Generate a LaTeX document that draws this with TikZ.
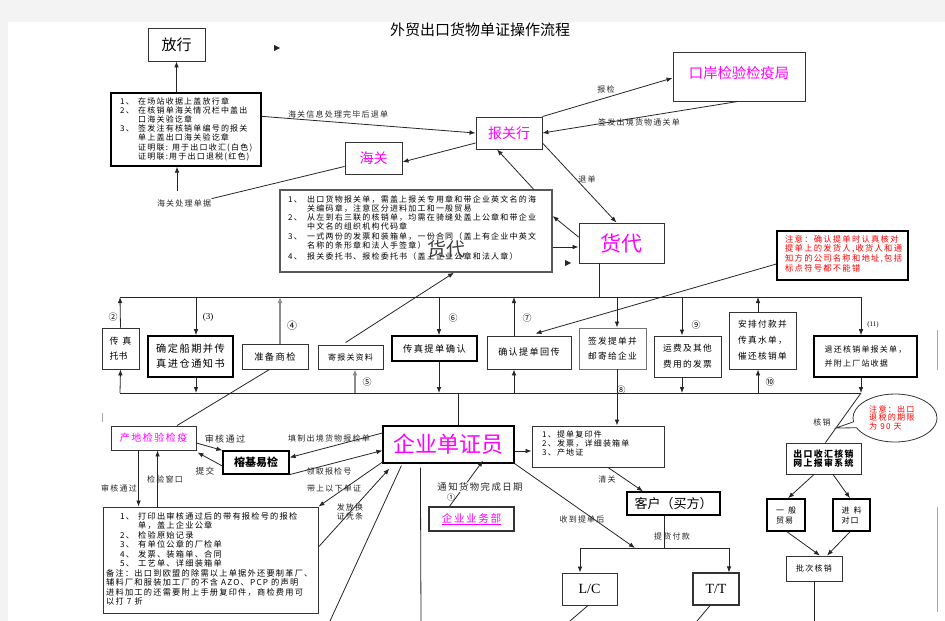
\documentclass[tikz,border=0pt]{standalone}
\usepackage{fontspec}
\setmainfont{Noto Sans CJK SC}
\newfontfamily\cjksp{Noto Sans CJK SC}[LetterSpace=15]
\newfontfamily\lserif{Liberation Serif}
\usetikzlibrary{arrows.meta,calc,shapes.geometric,shapes.callouts}
\definecolor{mag}{RGB}{255,0,255}
\definecolor{pagegray}{RGB}{243,243,243}
\newcommand\fsz[2]{\fontsize{#1}{#2}\selectfont}
\begin{document}
\begin{tikzpicture}[x=1pt,y=-1pt,
  box/.style={draw=black!80, line width=0.9pt, fill=white, inner sep=1pt},
  tbox/.style={box, draw=black, line width=1.6pt},
  arr/.style={draw=black!85, line width=0.8pt, -{Latex[length=6pt,width=4.6pt]}},
  garr/.style={draw=black!45, line width=1.8pt, -{Latex[length=6pt,width=5pt]}},
  ln/.style={draw=black!85, line width=0.8pt},
  lbl/.style={font=\cjksp\fsz{8}{9}, inner sep=0.5pt, text=black!85},
  num/.style={font=\fsz{9}{9}, inner sep=0pt},
  stray/.style={draw=black!35, line width=0.8pt},
  mtext/.style={anchor=north west, align=left, inner sep=0pt}]
\useasboundingbox (0,0) rectangle (945,621);
\fill[pagegray] (0,0) rectangle (945,621);
\fill[white] (8,22) rectangle (945,621);

% ---------- title ----------
\node[font=\fsz{15}{15}] (title) at (480,30) {外贸出口货物单证操作流程};

% ---------- top area ----------
\node[box, minimum width=57pt, minimum height=33pt, font=\fsz{15}{15}] (fx) at (176.5,44.5) {放行};
\fill[black!85] (274,45) -- (280,48) -- (274,51) -- cycle;
\node[box, draw=black, line width=1.3pt, minimum width=150pt, minimum height=73pt] (b1) at (186,129.5) {};
\node[mtext, font=\cjksp\fsz{8}{9.2}] (b1t) at (120,97) {%
\makebox[18pt][l]{1、}在场站收据上盖放行章\\
\makebox[18pt][l]{2、}在核销单海关情况栏中盖出\\
\hspace*{18pt}口海关验讫章\\
\makebox[18pt][l]{3、}签发注有核销单编号的报关\\
\hspace*{18pt}单上盖出口海关验讫章\\
\hspace*{18pt}证明联: 用于出口收汇(白色)\\
\hspace*{18pt}证明联:用于出口退税(红色)};
\node[lbl] (l1) at (184,203) {海关处理单据};
\node[box, minimum width=57pt, minimum height=32pt, text=mag, font=\fsz{14}{14}] (hg) at (373.5,158) {海关};
\node[box, minimum width=66pt, minimum height=32pt, text=mag, font=\fsz{14}{14}] (bg) at (509,133) {报关行};
\node[box, minimum width=132pt, minimum height=49pt] (ka) at (739,76.5) {};
\node[text=mag, font=\fsz{14.3}{14.3}, inner sep=0pt] (kat) at (739,73) {口岸检验检疫局};
\node[box, minimum width=85pt, minimum height=40pt, text=mag, font=\fsz{21}{21}] (hd) at (621.5,243) {货代};

\node[lbl] (l2) at (338,114) {海关信息处理完毕后退单};
\node[lbl] (l3) at (606,89) {报检};
\node[lbl] (l4) at (639,122) {签发出境货物通关单};
\node[lbl] (l5) at (587,179) {退单};

% requirements box
\node[box, draw=black!65, line width=1.3pt, minimum width=272pt, minimum height=82pt] (rq) at (416,231) {};
\node[mtext, font=\cjksp\fsz{8}{9.3}] (rqt) at (288,195) {%
\makebox[19pt][l]{1、}出口货物报关单，需盖上报关专用章和带企业英文名的海\\
\hspace*{19pt}关编码章，注意区分进料加工和一般贸易\\
\makebox[19pt][l]{2、}从左到右三联的核销单，均需在骑缝处盖上公章和带企业\\
\hspace*{19pt}中文名的组织机构代码章\\
\makebox[19pt][l]{3、}一式两份的发票和装箱单，一份合同（盖上有企业中英文\\
\hspace*{19pt}名称的条形章和法人手签章）\\[1.5pt]
\makebox[19pt][l]{4、}报关委托书、报检委托书（盖上企业公章和法人章）};
\node[font=\fsz{19}{19}, text=black!75, inner sep=0pt] (ov) at (446,249) {货代};
\fill[black!85] (565,260) -- (571,263) -- (565,266) -- cycle;

% note box
\node[box, draw=black, line width=1.4pt, minimum width=131pt, minimum height=49pt] (nt) at (842.5,255.5) {};
\node[mtext, text=red, font=\cjksp\fsz{8.3}{9.6}] (ntt) at (785,235) {%
注意：确认提单时认真核对\\
提单上的发货人,收货人和通\\
知方的公司名称和地址,包括\\
标点符号都不能错};

% ---------- top connectors ----------
\draw[arr] (b1.north -| fx.south) -- (fx.south);
\coordinate (c1) at (177,191);
\draw[arr] (c1) -- (b1.south -| c1);
\draw[ln] ($(hg.south west)+(0,-8)$) -- (l1.north east);
\draw[arr] ($(b1.north east)+(0,24)$) -- (bg.west);
\draw[arr] ($(bg.west)+(0,10)$) -- ($(hg.east)+(0,4)$);
\draw[arr] (bg.north east) -- ($(ka.west)+(0,1.5)$);
\draw[arr] ($(ka.south)+(-1,0)$) -- (bg.east);
\draw[arr] ($(bg.east)+(0,10)$) -- ($(hd.north)+(-5,0)$);
\draw[arr] ($(hd.west)+(0,-6)$) -- ($(rq.east)+(0,-15)$);
\draw[arr] ($(rq.east)+(0,16)$) -- ($(hd.west)+(0,4)$);
\draw[arr] ($(rq.north east)+(-19,0)$) -- ($(bg.south)+(-12,0)$);

% ---------- buses ----------
\coordinate (tL) at (120,297); \coordinate (tR) at (861,297);
\coordinate (bL) at (120,393); \coordinate (bR) at (861,393);
\coordinate (tH) at (599,297);
\draw[ln] (tL) -- (tR);
\draw[ln] (bL) -- (bR);
\draw[ln] ($(hd.south)+(-22.5,0)$) -- (tH);

\coordinate (t2) at (196,297); \coordinate (b2) at (196,393);
\coordinate (t3) at (280,297);
\coordinate (b4) at (355,393);
\coordinate (t5) at (439,297); \coordinate (b5) at (439,393);
\coordinate (t6) at (514,297); \coordinate (b6) at (514,393);
\coordinate (t7) at (617,297);
\coordinate (t8) at (682,297); \coordinate (b8) at (682,393);
\coordinate (t9) at (758,297); \coordinate (b9) at (758,393);
\coordinate (bQ) at (458,393);

% ---------- middle row ----------
\node[box, minimum width=37pt, minimum height=41pt, align=left, font=\fsz{9}{15}] (r1) at (120.5,348.5) {传\hspace{4pt}真\\托书};
\node[tbox, minimum width=85pt, minimum height=41pt, align=center, font=\cjksp\fsz{10.2}{15}] (r2) at (190.5,356.5) {确定船期并传\\真进仓通知书};
\node[box, minimum width=66pt, minimum height=25pt, font=\cjksp\fsz{9.3}{10}] (r3) at (275,356.5) {准备商检};
\node[box, minimum width=65pt, minimum height=24pt, font=\cjksp\fsz{8}{10}] (r4) at (350.5,357) {寄报关资料};
\node[tbox, minimum width=85pt, minimum height=25pt, font=\cjksp\fsz{9.3}{10}] (r5) at (434.5,348.5) {传真提单确认};
\node[box, minimum width=84pt, minimum height=33pt, font=\cjksp\fsz{9.1}{10}] (r6) at (529,352.5) {确认提单回传};
\node[box, draw=black!55, minimum width=67pt, minimum height=41pt, align=center, font=\cjksp\fsz{8.7}{15}] (r7) at (612.5,348.5) {签发提单并\\邮寄给企业};
\node[box, minimum width=67pt, minimum height=41pt, align=center, font=\cjksp\fsz{8.7}{16}] (r8) at (687.5,356.5) {运费及其他\\费用的发票};
\node[box, minimum width=67pt, minimum height=57pt, align=center, font=\cjksp\fsz{8.7}{16}] (r9) at (762.5,340.5) {安排付款并\\传真水单，\\催还核销单};
\node[tbox, minimum width=103pt, minimum height=41pt, align=left, font=\cjksp\fsz{8}{14.5}] (r10) at (865.5,356.5) {退还核销单报关单，\\并附上厂站收据};

\draw[arr] (r1.north) -- (tL);
\draw[arr] (bL) -- (r1.south);
\draw[arr] (t2) -- (r2.north -| t2);
\draw[arr] (r2.south -| t2) -- (b2);
\draw[garr] (r3.north -| t3) -- (t3);
\draw[garr] (b4) -- (r4.south -| b4);
\draw[arr] (t5) -- (r5.north -| t5);
\draw[arr] (r5.south -| t5) -- (b5);
\draw[arr] (r6.north -| t6) -- (t6);
\draw[arr] (b6) -- (r6.south -| b6);
\draw[arr] (t7) -- (r7.north -| t7);
\draw[arr] (t8) -- (r8.north -| t8);
\draw[arr] (r8.south -| t8) -- (b8);
\draw[arr] (r9.north -| t9) -- (t9);
\draw[arr] (b9) -- (r9.south -| b9);
\draw[arr] (tR) -- (r10.north -| tR);
\draw[arr] (r10.south -| bR) -- (bR);

\node[num] (n2) at (113,317) {②};
\node[num, font=\lserif\fsz{9}{9}] (n3) at (208,317) {(3)};
\node[num, font=\fsz{10}{10}] (n4) at (292,326) {④};
\node[num] (n5) at (367,382) {⑤};
\node[num] (n6) at (453,318) {⑥};
\node[num] (n7) at (527,318) {⑦};
\node[num] (n9) at (696,325) {⑨};
\node[num] (n10) at (770,382) {⑩};
\node[num, font=\lserif\fsz{7}{7}] (n11) at (873,325) {(11)};

\draw[arr] ($(r4.north west)+(28,-2)$) -- ($(rq.south)+(38,0)$);
\draw[arr] ($(nt.west)+(0,8.5)$) -- ($(r6.north east)+(-36,-2)$);

% ---------- lower middle ----------
\node[box, draw=black, line width=1.2pt, minimum width=131pt, minimum height=37pt, text=mag, font=\fsz{22}{22}] (qy) at (448.5,444.5) {企业单证员};
\node[box, minimum width=132pt, minimum height=41pt] (dc) at (598,446.5) {};
\node[mtext, font=\cjksp\fsz{8}{9}] (dct) at (542,431) {1、提单复印件\\2、发票，详细装箱单\\3、产地证};
\draw[arr] (r7.south -| t7) -- (dc.north -| t7);
\node[num] (n8) at (621,390) {⑧};
\draw[ln] (bQ) -- (qy.north -| bQ);
\draw[arr] ($(qy.east)+(0,6.5)$) -- ($(dc.west)+(0,4.5)$);

\node[tbox, line width=1.3pt, minimum width=93pt, minimum height=23pt, font=\fsz{13}{13}] (kh) at (673.5,503.5) {客户（买方）};
\node[box, minimum width=55pt, minimum height=32pt, font=\lserif\fsz{14}{14}] (lc) at (589.5,589) {L/C};
\node[box, line width=1.2pt, minimum width=46pt, minimum height=32pt, font=\lserif\fsz{14}{14}] (tt) at (716,589) {T/T};
\coordinate (hL) at (580,548); \coordinate (hR) at (729,548);
\coordinate (hJ) at (635,548); \coordinate (hK) at (664,548);
\draw[arr] ($(dc.south)+(10,0)$) -- ($(kh.north)+(-30.5,0)$);
\draw[arr] (qy.south east) -- (hJ);
\draw[ln] ($(kh.south)+(-9.5,0)$) -- (hK);
\draw[ln] (hL) -- (hR);
\draw[arr] (hL) -- (lc.north -| hL);
\draw[arr] (hR) -- (tt.north -| hR);
\coordinate (e1) at (330,621); \coordinate (e2) at (421,621);
\coordinate (e3) at (570,621); \coordinate (e4) at (697,621);
\coordinate (e5) at (814,621);
\draw[ln] ($(lc.south)+(-1.5,0)$) -- (e3);
\draw[ln] ($(tt.south)+(-6,0)$) -- (e4);
\draw[ln] ($(qy.south west)+(19,2)$) -- (e1);
\draw[ln] ($(qy.south west)+(38,4)$) -- (e2);

\node[lbl] (l15) at (607,479) {清关};
\node[lbl] (l16) at (582,519) {收到提单后};
\node[lbl] (l17) at (672,536) {提货付款};

% ---------- right lower ----------
\node[box, minimum width=75pt, minimum height=31pt, align=center, font=\bfseries\cjksp\fsz{8.9}{9.5}] (ck) at (823.5,458.5) {出口收汇核销\\网上报审系统};
\node[tbox, minimum width=38pt, minimum height=32pt, align=left, font=\cjksp\fsz{8}{10}] (yb) at (786,515) {一\hspace{4pt}般\\贸易};
\node[tbox, minimum width=37pt, minimum height=32pt, align=left, font=\cjksp\fsz{8}{10}] (jl) at (851.5,515) {进\hspace{4pt}料\\对口};
\node[box, minimum width=56pt, minimum height=25pt, font=\cjksp\fsz{8}{10}] (pc) at (814,568.5) {批次核销};
\draw[ln] (bR) -- ($(ck.north)+(2,0)$);
\node[ellipse callout, draw=black!80, line width=0.8pt, fill=white, minimum width=84pt, minimum height=48pt, callout absolute pointer={(836,428)}] (el) at (895,418) {};
\node[mtext, text=red, font=\cjksp\fsz{8.1}{8.6}] (elt) at (869,405) {注意：出口\\退税的期限\\为 90 天};
\node[lbl] (l18) at (822,422) {核销};
\draw[arr] ($(ck.south)+(-9.5,0)$) -- ($(yb.north)+(2,0)$);
\draw[arr] ($(ck.south)+(9.5,0)$) -- ($(jl.north)+(-1.5,0)$);
\draw[arr] ($(yb.south)+(1,0)$) -- ($(pc.north)+(6,0)$);
\draw[arr] ($(jl.south)+(-1.5,0)$) -- ($(pc.north)+(13,0)$);
\draw[ln] (pc.south) -- (e5);

% ---------- lower left ----------
\node[box, minimum width=85pt, minimum height=24pt, text=mag, font=\cjksp\fsz{10}{10}] (cd) at (153.5,438) {产地检验检疫};
\node[box, draw=black, line width=1.2pt, minimum width=66pt, minimum height=23pt, font=\bfseries\fsz{11}{11}] (rj) at (256,462.5) {榕基易检};
\node[box, minimum width=215pt, minimum height=106pt] (bt) at (210.5,560) {};
\node[mtext, font=\cjksp\fsz{8.2}{9.5}] (btt) at (106,512) {%
\hspace*{14pt}\makebox[18pt][l]{1、}打印出审核通过后的带有报检号的报检\\
\hspace*{32pt}单，盖上企业公章\\
\hspace*{14pt}\makebox[18pt][l]{2、}检验原始记录\\
\hspace*{14pt}\makebox[18pt][l]{3、}有单位公章的厂检单\\
\hspace*{14pt}\makebox[18pt][l]{4、}发票、装箱单、合同\\
\hspace*{14pt}\makebox[18pt][l]{5、}工艺单、详细装箱单\\
备注：出口到欧盟的除需以上单据外还要制革厂、\\
辅料厂和服装加工厂的不含 AZO、PCP 的声明\\
进料加工的还需要附上手册复印件，商检费用可\\
以打 7 折};
\node[box, line width=1.1pt, minimum width=85pt, minimum height=24pt, text=mag, font=\cjksp\fsz{10.6}{12}] (yw) at (471.5,519) {\underline{企业业务部}};

\draw[ln] ($(r3.south west)+(28,0)$) -- ($(cd.north)+(23.5,0)$);
\draw[arr] ($(cd.east)+(0,5)$) -- (rj.north west);
\draw[arr] ($(rj.west)+(0,3.5)$) -- ($(cd.south east)+(1,2)$);
\draw[arr] ($(qy.west)+(0,-11.5)$) -- ($(rj.east)+(0,-5)$);
\draw[arr] (rj.south east) -- ($(qy.west)+(0,6)$);
\draw[arr] ($(qy.south west)+(0,-1.5)$) -- (bt.north east);
\draw[arr] ($(bt.east)+(0,-13)$) -- ($(qy.south west)+(7,5)$);
\draw[arr] ($(cd.south west)+(28,0)$) -- ($(bt.north west)+(36,0)$);
\draw[arr] ($(bt.north west)+(55,0)$) -- ($(cd.south west)+(47,0)$);
\draw[arr] ($(yw.north west)+(21,0)$) -- ($(qy.south)+(34.5,-3)$);

\node[lbl, font=\cjksp\fsz{9.1}{10}] (l6) at (225,439) {审核通过};
\node[lbl, font=\cjksp\fsz{8.7}{10}] (l7) at (205,471) {提交};
\node[lbl] (l8) at (119,488) {审核通过};
\node[lbl] (l9) at (165,479) {检验窗口};
\node[lbl] (l10) at (329,438) {填制出境货物报检单};
\node[lbl] (l11) at (329,471) {领取报检号};
\node[lbl] (l12) at (334,488) {带上以下单证};
\node[lbl, align=left, font=\cjksp\fsz{8}{9}] (l13) at (350,512) {发放换\\证凭条};
\node[lbl, fill=white, font=\cjksp\fsz{9.4}{10}] (l14) at (480,487) {通知货物完成日期};
\node[num, font=\fsz{8}{8}] (n1) at (451,497) {①};

% stray marks
\draw[stray] (937,330) -- (937,370);
\draw[stray] (937,507) -- (937,612);
\draw[stray] (102,413) -- (102,422);
\end{tikzpicture}
\end{document}
